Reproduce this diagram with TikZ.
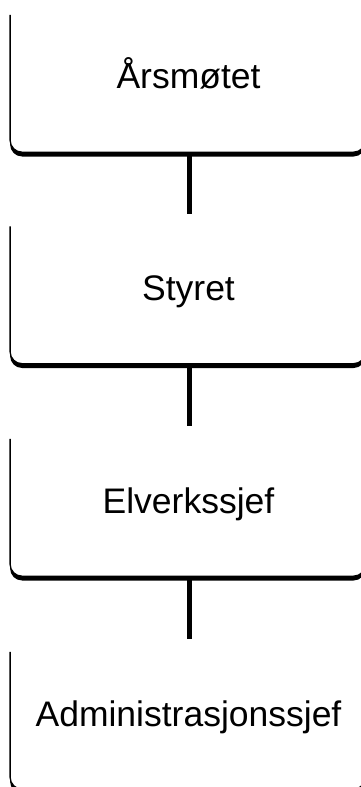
\documentclass[tikz,border=0pt]{standalone}
\usepackage{fontspec}
\setmainfont{Liberation Sans}
\newcommand\orgframe[1]{%
  \fill[black, rounded corners=12pt] ([yshift=30pt]#1.south west) -- ([yshift=-4.3pt]#1.south west) -- ([yshift=-4.3pt]#1.south east) -- ([yshift=30pt]#1.south east);
  \fill[white, rounded corners=12pt] ([yshift=40pt]#1.south west) -- (#1.south west) -- (#1.south east) -- ([yshift=40pt]#1.south east);
  \draw[black, line width=1.3pt, rounded corners=12pt] (#1.north west) -- (#1.south west) -- (#1.south east) -- (#1.north east);
}
\begin{document}
\begin{tikzpicture}[x=1pt,y=-1pt,
  orgbox/.style={rectangle, draw=none, inner sep=0pt, minimum width=355pt, minimum height=137pt},
  orglabel/.style={anchor=base, inner sep=0pt, font=\fontsize{35.5}{40}\selectfont},
  link/.style={line width=5pt, black}]
\useasboundingbox (0,0) rectangle (361,787);
\clip (0,0) rectangle (361,787);
\fill[white] (0,0) rectangle (361,787);
\node[orgbox] (box1) at (187.8,83.5) {};
\node[orgbox] (box2) at (187.8,295) {};
\node[orgbox] (box3) at (187.8,507.5) {};
\node[orgbox] (box4) at (187.8,720.5) {};
\orgframe{box1}
\orgframe{box2}
\orgframe{box3}
\orgframe{box4}
\node[orglabel] (t1) at (188.5,88.5) {Årsmøtet};
\node[orglabel] (t2) at (188.5,300.5) {Styret};
\node[orglabel] (t3) at (188.5,513) {Elverkssjef};
\node[orglabel] (t4) at (188.5,726.5) {Administrasjonssjef};
\coordinate (e1) at (189,213.5);
\coordinate (e2) at (189,426);
\coordinate (e3) at (189,638.5);
\draw[link] (e1 |- box1.south) -- (e1);
\draw[link] (e2 |- box2.south) -- (e2);
\draw[link] (e3 |- box3.south) -- (e3);
\end{tikzpicture}
\end{document}
